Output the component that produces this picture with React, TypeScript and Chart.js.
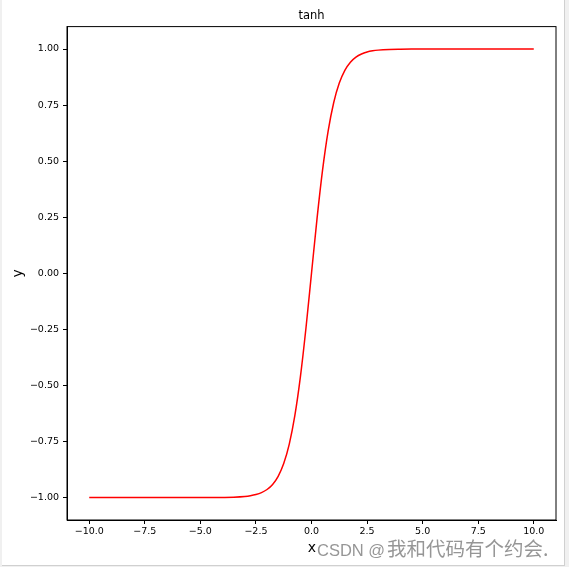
import React, { useEffect, useRef } from "react";
import { Chart, registerables } from "chart.js";

Chart.register(...registerables);

const chartTitle = "tanh";
const xLabel = "x";
const yLabel = "y";
const watermarkLatin = "CSDN @";
const watermarkCjk = "我和代码有个约会.";

const xValues = [
  -10, -9, -8, -7, -6, -5, -4.5, -4, -3.5, -3, -2.75, -2.5, -2.25, -2, -1.75, -1.5, -1.25, -1,
  -0.75, -0.5, -0.25, 0, 0.25, 0.5, 0.75, 1, 1.25, 1.5, 1.75, 2, 2.25, 2.5, 2.75, 3, 3.5, 4,
  4.5, 5, 6, 7, 8, 9, 10,
];
const yValues = [
  -1.0, -1.0, -1.0, -1.0, -1.0, -0.9999, -0.9998, -0.9993, -0.9982, -0.9951, -0.9919, -0.9866,
  -0.978, -0.964, -0.9414, -0.9051, -0.8483, -0.7616, -0.6351, -0.4621, -0.2449, 0.0, 0.2449,
  0.4621, 0.6351, 0.7616, 0.8483, 0.9051, 0.9414, 0.964, 0.978, 0.9866, 0.9919, 0.9951, 0.9982,
  0.9993, 0.9998, 0.9999, 1.0, 1.0, 1.0, 1.0, 1.0,
];

const xTicks = [-10, -7.5, -5, -2.5, 0, 2.5, 5, 7.5, 10];
const yTicks = [-1, -0.75, -0.5, -0.25, 0, 0.25, 0.5, 0.75, 1];

const FONT = "'DejaVu Sans', sans-serif";

function fmt(v: number, d: number) {
  const s = Math.abs(v).toFixed(d);
  return v < 0 ? "\u2212" + s : s;
}

export default function App() {
  const ref = useRef<HTMLCanvasElement | null>(null);

  useEffect(() => {
    if (!ref.current) return;
    const frame = {
      id: "frame",
      afterDraw(chart: any) {
        const { ctx, chartArea: a } = chart;
        ctx.save();
        ctx.strokeStyle = "#000";
        ctx.lineWidth = 1;
        ctx.strokeRect(a.left, a.top, a.right - a.left, a.bottom - a.top);
        ctx.fillStyle = "#000";
        ctx.textAlign = "center";
        ctx.textBaseline = "middle";
        ctx.font = "11.5px " + FONT;
        ctx.fillText(chartTitle, (a.left + a.right) / 2, 16);
        ctx.font = "14px " + FONT;
        ctx.fillText(xLabel, 312, 548);
        ctx.save();
        ctx.translate(18, (a.top + a.bottom) / 2);
        ctx.rotate(-Math.PI / 2);
        ctx.fillText(yLabel, 0, 0);
        ctx.restore();
        ctx.textAlign = "left";
        ctx.textBaseline = "alphabetic";
        ctx.fillStyle = "rgb(150,150,150)";
        ctx.font = "16.5px 'Liberation Sans', sans-serif";
        ctx.fillText(watermarkLatin, 317, 556);
        ctx.font = "19.5px 'Noto Sans CJK SC', sans-serif";
        ctx.fillText(watermarkCjk, 387, 556);
        ctx.restore();
      },
    };
    const chart = new Chart(ref.current, {
      type: "line",
      data: {
        datasets: [
          {
            data: xValues.map((x, i) => ({ x, y: yValues[i] })),
            borderColor: "#ff0000",
            borderWidth: 1.5,
            pointRadius: 0,
            cubicInterpolationMode: "monotone",
            fill: false,
          },
        ],
      },
      options: {
        animation: false,
        responsive: false,
        layout: { padding: { left: 0, top: 26.6, right: 13, bottom: 0 } },
        plugins: { legend: { display: false }, tooltip: { enabled: false }, title: { display: false } },
        scales: {
          x: {
            type: "linear",
            min: -11,
            max: 11,
            afterFit: (s: any) => {
              s.height = 567 - 520;
            },
            afterBuildTicks: (s: any) => {
              s.ticks = xTicks.map((v) => ({ value: v }));
            },
            grid: { drawOnChartArea: false, drawTicks: true, tickLength: 4, color: "#000" },
            border: { display: true, color: "#000", width: 1 },
            ticks: {
              color: "#000",
              font: { family: FONT, size: 9.5 },
              padding: 2,
              maxRotation: 0,
              autoSkip: false,
              callback: (v: any) => fmt(Number(v), 1),
            },
          },
          y: {
            type: "linear",
            min: -1.1,
            max: 1.1,
            afterFit: (s: any) => {
              s.width = 67;
            },
            afterBuildTicks: (s: any) => {
              s.ticks = yTicks.map((v) => ({ value: v }));
            },
            grid: { drawOnChartArea: false, drawTicks: true, tickLength: 4, color: "#000" },
            border: { display: true, color: "#000", width: 1 },
            ticks: {
              color: "#000",
              font: { family: FONT, size: 9.5 },
              padding: 4,
              autoSkip: false,
              callback: (v: any) => fmt(Number(v), 2),
            },
          },
        },
      } as any,
      plugins: [frame],
    });
    return () => chart.destroy();
  }, []);

  return (
    <div style={{ position: "absolute", left: 0, top: 0, width: 569, height: 567, background: "#f0f0f0" }}>
      <div
        style={{
          position: "absolute",
          left: 2,
          top: 0,
          width: 562,
          height: 565,
          background: "#fff",
          borderRight: "1px solid #d0d0d0",
          borderBottom: "1px solid #d0d0d0",
        }}
      />
      <canvas ref={ref} width={569} height={567} style={{ position: "absolute", left: 0, top: 0 }} />
    </div>
  );
}
